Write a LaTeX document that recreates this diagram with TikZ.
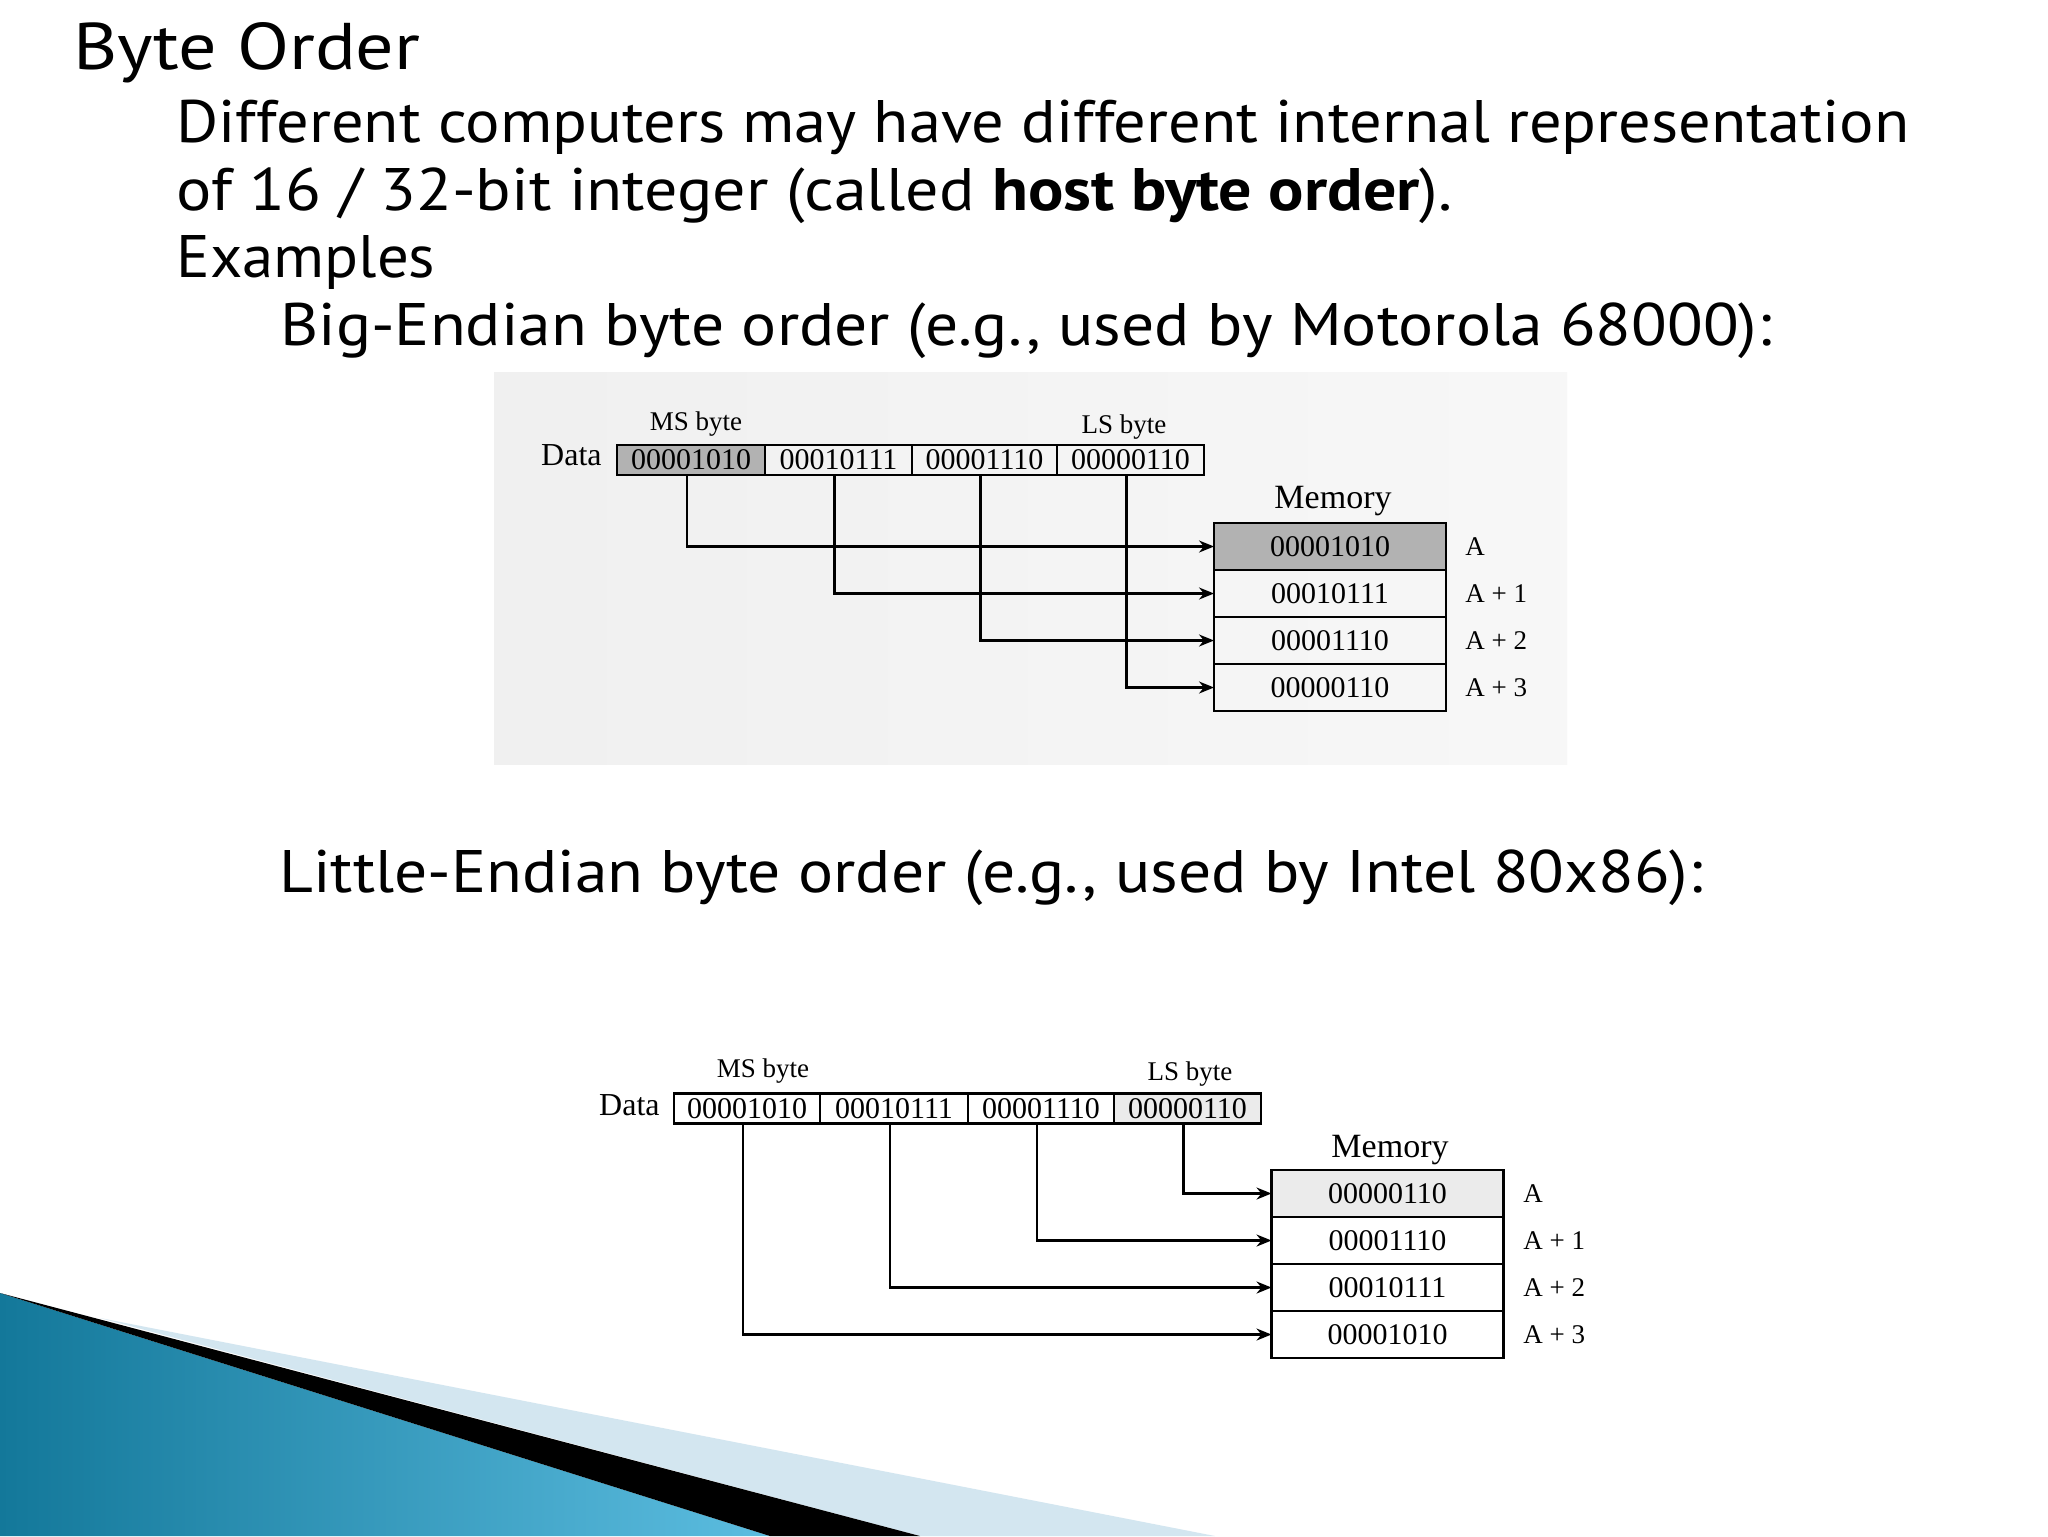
\documentclass[tikz,border=0pt]{standalone}
\usepackage{graphicx}
\usepackage{fontspec}
\setmainfont{Liberation Serif}
\newfontfamily\slidefont{PT Sans}
\usetikzlibrary{arrows.meta}
\newsavebox\fitbox
\newcommand\fitto[2]{\sbox\fitbox{#2}\pgfmathsetmacro\fitratio{#1/\the\wd\fitbox}\scalebox{\fitratio}[1]{\usebox\fitbox}}
\definecolor{swdark}{HTML}{13789A}
\definecolor{swlight}{HTML}{5CBDE0}
\definecolor{swpale}{HTML}{D3E6F0}
\tikzset{
  slide/.style={anchor=base west, inner sep=0pt, font=\slidefont\fontsize{30}{36}\selectfont},
  cell/.style={draw, line width=1.2pt, minimum height=15pt, inner sep=0pt, outer sep=0pt, font=\fontsize{15}{17}\selectfont},
  mcell/.style={draw, line width=1.2pt, minimum width=116pt, minimum height=23.5pt, inner sep=0pt, outer sep=0pt, font=\fontsize{15}{17}\selectfont},
  lbl/.style={inner sep=0pt, anchor=base, font=\fontsize{13.5}{16}\selectfont},
  datalbl/.style={inner sep=0pt, anchor=base east, font=\fontsize{16}{18}\selectfont},
  memlbl/.style={inner sep=0pt, anchor=base, font=\fontsize{17}{20}\selectfont},
  addr/.style={inner sep=0pt, anchor=west, font=\fontsize{13.5}{16}\selectfont},
  conn/.style={line width=1.1pt, -{Stealth[length=7.5pt,width=6pt]}},
}
\begin{document}
\begin{tikzpicture}[x=0.5pt, y=-0.5pt]
\useasboundingbox (0,0) rectangle (2048,1536);
\fill[white] (0,0) rectangle (2048,1536);

% slide text
\node[slide, font=\slidefont\fontsize{33}{40}\selectfont] (t1) at (73,70) {\fitto{173.5pt}{Byte Order}};
\node[slide] (t2) at (176,142) {\fitto{866.5pt}{Different computers may have different internal representation}};
\node[slide] (t3) at (176,210) {\fitto{638pt}{of 16 / 32-bit integer (called {\bfseries host byte order}).}};
\node[slide] (t4) at (176,277) {\fitto{129.5pt}{Examples}};
\node[slide] (t5) at (280,345) {\fitto{745.5pt}{Big-Endian byte order (e.g., used by Motorola 68000):}};
\node[slide] (t6) at (279,892) {\fitto{711.5pt}{Little-Endian byte order (e.g., used by Intel 80x86):}};

% ---- Big-endian diagram ----
\shade[left color=black!6, right color=black!3] (494,372) rectangle (1567,764);
\node[cell, minimum width=74pt, fill=black!30] (bd1) at (691,460) {00001010};
\node[cell, minimum width=73.5pt] (bd2) at (838.5,460) {00010111};
\node[cell, minimum width=72.5pt] (bd3) at (984.5,460) {00001110};
\node[cell, minimum width=73.5pt] (bd4) at (1130.5,460) {00000110};
\node[datalbl] (bdata) at (602,465) {Data};
\node[lbl] (bms) at (696,430) {MS byte};
\node[lbl] (bls) at (1124,433) {LS byte};
\node[memlbl] (bmem) at (1333,508) {Memory};
\node[mcell, fill=black!30] (bm1) at (1330,546.5) {00001010};
\node[mcell] (bm2) at (1330,593.5) {00010111};
\node[mcell] (bm3) at (1330,640.5) {00001110};
\node[mcell] (bm4) at (1330,687.5) {00000110};
\node[addr] (ba1) at (1465,546.5) {A};
\node[addr] (ba2) at (1465,593.5) {A + 1};
\node[addr] (ba3) at (1465,640.5) {A + 2};
\node[addr] (ba4) at (1465,687.5) {A + 3};
\draw[conn] ([xshift=-2pt]bd1.south) |- (bm1.west);
\draw[conn] ([xshift=-2pt]bd2.south) |- (bm2.west);
\draw[conn] ([xshift=-2pt]bd3.south) |- (bm3.west);
\draw[conn] ([xshift=-2pt]bd4.south) |- (bm4.west);

% ---- Little-endian diagram ----
\node[cell, minimum width=73pt] (ld1) at (747,1108.5) {00001010};
\node[cell, minimum width=74pt] (ld2) at (894,1108.5) {00010111};
\node[cell, minimum width=73pt] (ld3) at (1041,1108.5) {00001110};
\node[cell, minimum width=73.5pt, fill=black!8] (ld4) at (1187.5,1108.5) {00000110};
\node[datalbl] (ldata) at (660,1115) {Data};
\node[lbl] (lms) at (763,1077) {MS byte};
\node[lbl] (lls) at (1190,1080) {LS byte};
\node[memlbl] (lmem) at (1390,1157) {Memory};
\node[mcell, fill=black!8] (lm1) at (1387.5,1193.5) {00000110};
\node[mcell] (lm2) at (1387.5,1240.5) {00001110};
\node[mcell] (lm3) at (1387.5,1287.5) {00010111};
\node[mcell] (lm4) at (1387.5,1334.5) {00001010};
\node[addr] (la1) at (1523,1193.5) {A};
\node[addr] (la2) at (1523,1240.5) {A + 1};
\node[addr] (la3) at (1523,1287.5) {A + 2};
\node[addr] (la4) at (1523,1334.5) {A + 3};
\draw[conn] ([xshift=-2pt]ld4.south) |- (lm1.west);
\draw[conn] ([xshift=-2pt]ld3.south) |- (lm2.west);
\draw[conn] ([xshift=-2pt]ld2.south) |- (lm3.west);
\draw[conn] ([xshift=-2pt]ld1.south) |- (lm4.west);

% ---- swoosh ----
\fill[swpale] (100,1318) -- (1215,1536) -- (920,1536) -- cycle;
\shade[left color=swdark, right color=swlight] (0,1293) -- (770,1536) -- (0,1536) -- cycle;
\fill[black] (0,1293) -- (920,1536) -- (770,1536) -- cycle;
\end{tikzpicture}
\end{document}
